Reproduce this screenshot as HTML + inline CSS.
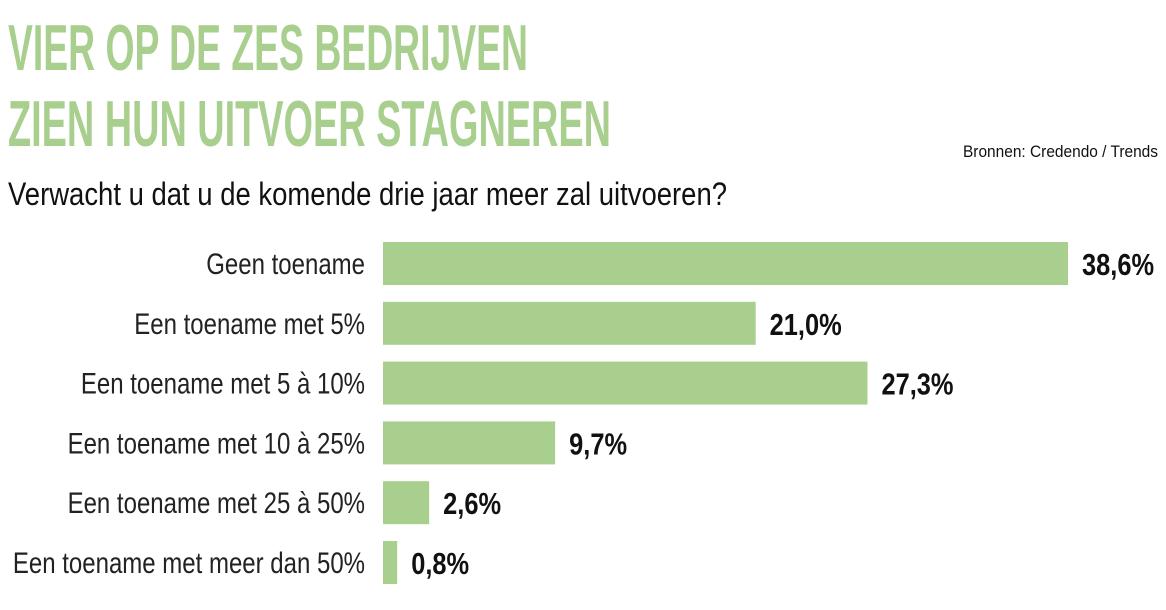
<!DOCTYPE html>
<html><head><meta charset="utf-8"><style>
body{margin:0;background:#fff;}
svg text{font-family:"Liberation Sans Narrow","Liberation Sans",sans-serif;}
</style></head><body>
<svg width="1166" height="605" viewBox="0 0 1166 605">
<text x="8" y="70" font-size="65" font-weight="bold" fill="#a9cf8f" textLength="520" lengthAdjust="spacingAndGlyphs">VIER OP DE ZES BEDRIJVEN</text>
<text x="8" y="146" font-size="65" font-weight="bold" fill="#a9cf8f" textLength="603" lengthAdjust="spacingAndGlyphs">ZIEN HUN UITVOER STAGNEREN</text>
<text x="1158" y="157" font-size="17" text-anchor="end" fill="#111" textLength="195" lengthAdjust="spacingAndGlyphs">Bronnen: Credendo / Trends</text>
<text x="8" y="205" font-size="32" fill="#111" textLength="719" lengthAdjust="spacingAndGlyphs">Verwacht u dat u de komende drie jaar meer zal uitvoeren?</text>
<g id="bars"></g>
</svg>
<script>
const categories = ["Geen toename","Een toename met 5%","Een toename met 5 à 10%","Een toename met 10 à 25%","Een toename met 25 à 50%","Een toename met meer dan 50%"];
const values = [38.6,21.0,27.3,9.7,2.6,0.8];
const valueLabels = ["38,6%","21,0%","27,3%","9,7%","2,6%","0,8%"];
const NS="http://www.w3.org/2000/svg";
const g=document.getElementById('bars');
const x0=383, pxPer=685/38.6;
const xScale=v=>v*pxPer;
const yScale=i=>263+i*59.8;
categories.forEach((c,i)=>{
  const cy=yScale(i);
  const r=document.createElementNS(NS,'rect');
  
  
  r.setAttribute('x',x0);r.setAttribute('y',cy-21);
  r.setAttribute('width',xScale(values[i]));r.setAttribute('height',43);
  r.setAttribute('fill','#a9cf8f');
  g.appendChild(r);
  const t=document.createElementNS(NS,'text');
  
  
  t.setAttribute('text-anchor','end');
  t.setAttribute('font-size','30');
  t.setAttribute('fill','#222');
  t.setAttribute('transform','translate(365,'+(cy+11)+') scale(0.8,1)');
  t.textContent=c;
  g.appendChild(t);
  const v=document.createElementNS(NS,'text');
  
  
  v.setAttribute('font-size','31');
  v.setAttribute('font-weight','bold');
  v.setAttribute('fill','#111');
  v.setAttribute('transform','translate('+(x0+xScale(values[i])+14)+','+(cy+12)+') scale(0.82,1)');
  v.textContent=valueLabels[i];
  g.appendChild(v);
});
</script>
</body></html>
